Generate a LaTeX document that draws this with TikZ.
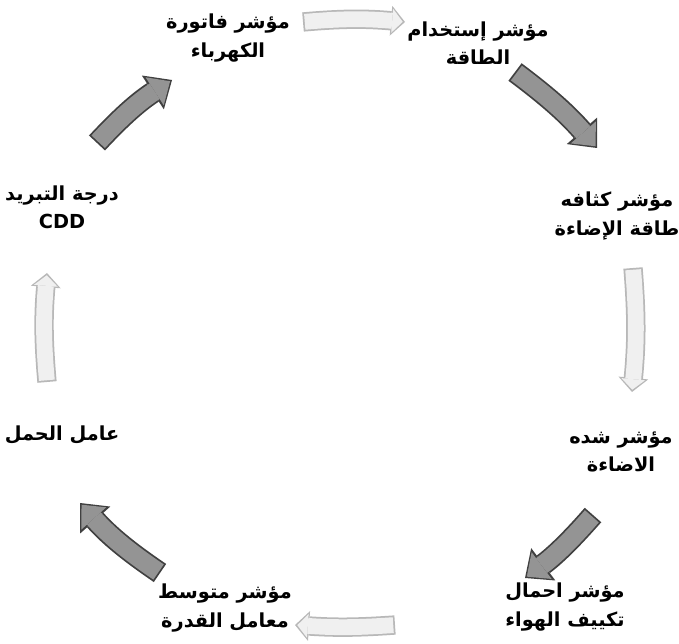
\documentclass[tikz,border=0pt]{standalone}
\usepackage{fontspec}
\newfontfamily\arabicfont[Script=Arabic]{DejaVu Sans}
\TeXXeTstate=1
\usetikzlibrary{arrows.meta}
\newcommand\artext[1]{\beginR#1\endR}

\begin{document}
\begin{tikzpicture}[x=0.02cm,y=-0.02cm,
  every node/.style={align=center,inner sep=1pt,
    font=\arabicfont\bfseries\fontsize{11}{16}\selectfont},
  darkflow/.style={line width=12.5pt,draw=black!75,
    -{Triangle[width=23pt,length=13pt,line width=0pt]},
    postaction={draw=black!42,line width=10.5pt,
      -{Triangle[width=19pt,length=10.5pt,line width=0pt]},
      shorten >=1.3pt,shorten <=1pt}},
  lightflow/.style={line width=11pt,draw=black!28,
    -{Triangle[width=17pt,length=8pt,line width=0pt]},
    postaction={draw=black!6,line width=9pt,
      -{Triangle[width=13.5pt,length=6pt,line width=0pt]},
      shorten >=1.3pt,shorten <=1pt}}]
	\useasboundingbox (0,0) rectangle (679,644);

	%% the eight indicators
	\node (fatura) at (228,38) {\artext{مؤشر فاتورة}\\\artext{الكهرباء}};
	\node (istikhdam) at (478,43) {\artext{مؤشر إستخدام}\\\artext{الطاقة}};
	\node (kathafa) at (617,216) {\artext{مؤشر كثافه}\\\artext{طاقة الإضاءة}};
	\node (shidda) at (621,452) {\artext{مؤشر شده}\\\artext{الاضاءة}};
	\node (ahmal) at (565,607) {\artext{مؤشر احمال}\\\artext{تكييف الهواء}};
	\node (mutawassit) at (225,608) {\artext{مؤشر متوسط}\\\artext{معامل القدرة}};
	\node (amil) at (62,435) {\artext{عامل الحمل}};
	\node (daraja) at (62,207) {\artext{درجة التبريد}\\CDD};

	%% the cycle
	\draw[lightflow] ([shift={(75,-16)}]fatura.center) to[bend left=5] ([shift={(-73,-21)}]istikhdam.center);
	\draw[darkflow] ([shift={(37,29)}]istikhdam.center) to[bend left=6] ([shift={(-20,-68)}]kathafa.center);
	\draw[lightflow] ([shift={(16,52)}]kathafa.center) to[bend left=5] ([shift={(11,-60)}]shidda.center);
	\draw[darkflow] ([shift={(-28,63)}]shidda.center) to[bend left=6] ([shift={(-40,-29)}]ahmal.center);
	\draw[lightflow] ([shift={(-170,18)}]ahmal.center) to[bend left=4] ([shift={(70,17)}]mutawassit.center);
	\draw[darkflow] ([shift={(-65,-35)}]mutawassit.center) to[bend left=7] ([shift={(18,68)}]amil.center);
	\draw[lightflow] ([shift={(-15,-53)}]amil.center) to[bend left=5] ([shift={(-15,66)}]daraja.center);
	\draw[darkflow] ([shift={(35,-64)}]daraja.center) to[bend left=7] ([shift={(-56,42)}]fatura.center);
\end{tikzpicture}
\end{document}
